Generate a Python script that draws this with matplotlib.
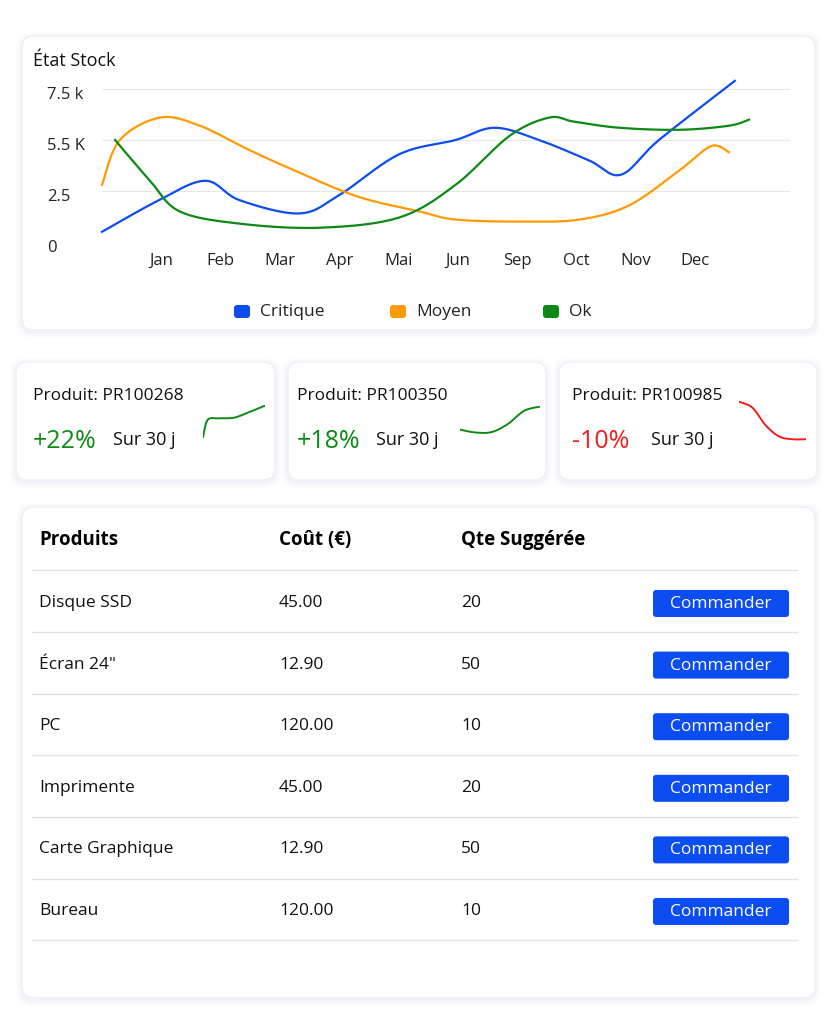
import matplotlib
matplotlib.use("Agg")
import matplotlib.pyplot as plt
import matplotlib.transforms as mtrans
import numpy as np
from matplotlib.patches import FancyBboxPatch

plt.rcParams["font.family"] = "Open Sans"

months = ["Jan","Feb","Mar","Apr","Mai","Jun","Sep","Oct","Nov","Dec"]
ytick_vals = [0, 2.5, 5, 7.5]
ytick_labels = ["0", "2.5", "5.5 K", "7.5 k"]
# x in month units (Jan=1)
crit_x = [0.0, 0.96, 1.74, 2.32, 3.33, 4.0, 5.01, 5.96, 6.62, 7.37, 8.21, 8.75, 9.39, 10.67]
crit_y = [0.5, 2.05, 3.0, 2.05, 1.4, 2.3, 4.3, 5.0, 5.6, 5.0, 4.0, 3.3, 5.0, 7.9]
moy_x = [0.0, 0.3, 0.98, 1.65, 2.49, 3.33, 4.34, 5.35, 5.96, 7.04, 8.05, 8.89, 9.73, 10.27, 10.57]
moy_y = [2.8, 5.0, 6.1, 5.7, 4.5, 3.4, 2.2, 1.5, 1.1, 1.0, 1.1, 1.8, 3.5, 4.7, 4.4]
ok_x = [0.22, 0.81, 1.31, 2.32, 3.67, 5.01, 5.96, 6.87, 7.54, 7.96, 8.72, 9.73, 10.57, 10.91]
ok_y = [5.0, 3.0, 1.5, 0.9, 0.7, 1.2, 2.8, 5.2, 6.1, 5.9, 5.6, 5.5, 5.7, 6.0]
series = [("Critique", crit_x, crit_y, "#0B4DF0"), ("Moyen", moy_x, moy_y, "#FF9A05"), ("Ok", ok_x, ok_y, "#0C8A14")]

cards = [("Produit: PR100268", "+22%", "#0C8A14", [0, 0.3, 1, 2, 3, 4], [0, 0.55, 0.6, 0.62, 0.8, 1.0]),
         ("Produit: PR100350", "+18%", "#0C8A14", [0, 1, 2, 3, 4, 5], [0.2, 0.1, 0.12, 0.4, 0.85, 1.0]),
         ("Produit: PR100985", "-10%", "#F01E1E", [0, 1, 2, 3, 4, 5], [1.0, 0.85, 0.4, 0.12, 0.05, 0.05])]

produits = ["Disque SSD", "Écran 24\"", "PC", "Imprimente", "Carte Graphique", "Bureau"]
couts = ["45.00", "12.90", "120.00", "45.00", "12.90", "120.00"]
qtes = ["20", "50", "10", "20", "50", "10"]

def smooth(x, y, n=20):
    x = np.asarray(x, float); y = np.asarray(y, float)
    P = np.column_stack([x, y])
    P = np.vstack([P[0], P, P[-1]])
    out = []
    for i in range(1, len(P) - 2):
        p0, p1, p2, p3 = P[i-1], P[i], P[i+1], P[i+2]
        for t in np.linspace(0, 1, n, endpoint=False):
            out.append(0.5*((2*p1) + (-p0+p2)*t + (2*p0-5*p1+4*p2-p3)*t**2 + (-p0+3*p1-3*p2+p3)*t**3))
    out.append(P[-2])
    out = np.array(out)
    return out[:, 0], out[:, 1]

W, H = 829, 1016
fig = plt.figure(figsize=(W/100, H/100), dpi=100)
bg = fig.add_axes([0, 0, 1, 1])
bg.set_xlim(0, W); bg.set_ylim(H, 0); bg.axis("off")

def card(x0, y0, x1, y1):
    for k, a in [(6, 0.02), (4, 0.03), (2, 0.04)]:
        bg.add_patch(FancyBboxPatch((x0-k, y0-k+2), x1-x0+2*k, y1-y0+2*k, boxstyle="round,pad=0,rounding_size=14",
                                    fc="#8090c0", ec="none", alpha=a))
    bg.add_patch(FancyBboxPatch((x0, y0), x1-x0, y1-y0, boxstyle="round,pad=0,rounding_size=12", fc="white", ec="#eef0f6", lw=1))

card(22, 36, 815, 330)
card(16, 362, 275, 480); card(288, 362, 546, 480); card(559, 362, 817, 480)
card(22, 507, 815, 998)

bg.text(33, 61, "État Stock", fontsize=13, va="center", color="#111", fontweight="medium")

def fx(px): return px / W
def fy(py): return 1 - py / H
ax = fig.add_axes([fx(102), fy(242), fx(790) - fx(102), fy(89) - fy(242)])
ax.set_xlim(0, 11.6); ax.set_ylim(0, 7.5)
for name, xs, ys, c in series:
    sx, sy = smooth(xs, ys)
    ax.plot(sx, sy, color=c, lw=1.6, clip_on=False)
ax.set_yticks(ytick_vals); ax.set_yticklabels([])
ax.set_xticks(range(1, 11)); ax.set_xticklabels(months)
ax.grid(axis="y", color="#e6e6e6", lw=0.8)
ax.set_axisbelow(True)
for s in ax.spines.values(): s.set_visible(False)
ax.tick_params(length=0, labelsize=12, colors="#222")
ax.tick_params(axis="x", pad=8)
trans = mtrans.offset_copy(mtrans.blended_transform_factory(bg.transData, ax.transData), fig=fig, y=-4, units="points")
for v, l in zip(ytick_vals, ytick_labels):
    ax.text(47, v, l, transform=trans, fontsize=12, va="center", ha="left", color="#222")

for (name, xs, ys, c), lx in zip(series, [242, 398, 551]):
    bg.add_patch(FancyBboxPatch((lx-8, 305), 16, 13, boxstyle="round,pad=0,rounding_size=3", fc=c, ec="none"))
    bg.text(lx+18, 312, name, fontsize=12.5, va="center", color="#222")

for (title, pct, c, sxs, sys_), x0, tx, sx_ in zip(cards, [16, 288, 559], [33, 297, 572], [113, 376, 651]):
    bg.text(tx, 396, title, fontsize=12.5, va="center", color="#111")
    bg.text(tx, 441, pct, fontsize=18, va="center", color=c)
    bg.text(sx_, 440, "Sur 30 j", fontsize=13, va="center", color="#111")
    if x0 == 16: rect = (203, 265, 405, 438)
    elif x0 == 288: rect = (460, 540, 406, 436)
    else: rect = (739, 806, 401, 442)
    sax = fig.add_axes([fx(rect[0]), fy(rect[3]), fx(rect[1]) - fx(rect[0]), fy(rect[2]) - fy(rect[3])])
    px, py = smooth(sxs, sys_)
    sax.plot(px, py, color=c, lw=1.4)
    sax.axis("off"); sax.set_xlim(min(sxs), max(sxs)); sax.set_ylim(-0.02, 1.02)

cols = [39, 279, 461]
for x, h in zip(cols, ["Produits", "Coût (€)", "Qte Suggérée"]):
    bg.text(x, 540, h, fontsize=13.5, fontweight="bold", va="center", color="#000")
for yl in [570, 632, 694, 755, 817, 879, 940]:
    bg.plot([32, 797], [yl, yl], color="#e2e2e2", lw=1)
for i, (p, c_, q) in enumerate(zip(produits, couts, qtes)):
    y = 603 + i * 61.6
    bg.text(39, y, p, fontsize=12.5, va="center", color="#111")
    bg.text(279, y, c_, fontsize=12.5, va="center", color="#111")
    bg.text(461, y, q, fontsize=12.5, va="center", color="#111")
    bg.add_patch(FancyBboxPatch((653, y-13), 136, 27, boxstyle="round,pad=0,rounding_size=3", fc="#0B4DF0", ec="none"))
    bg.text(721, y+1, "Commander", fontsize=12.5, va="center", ha="center", color="white")

fig.savefig("out.png", dpi=100, facecolor="white")
